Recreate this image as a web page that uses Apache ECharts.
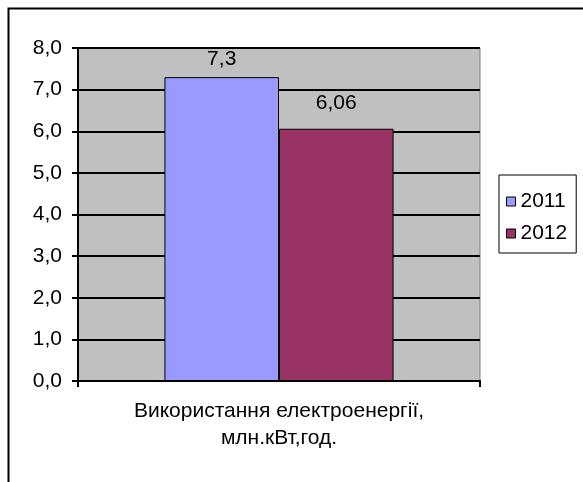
<!DOCTYPE html>
<html>
<head>
<meta charset="utf-8">
<script src="https://cdn.jsdelivr.net/npm/echarts@6/dist/echarts.min.js"></script>
<style>
html,body{margin:0;padding:0;background:#fff;}
#c{width:583px;height:482px;}
</style>
</head>
<body>
<div id="c"></div>
<script>
var categories = ['Використання електроенергії,\nмлн.кВт,год.'];
var seriesNames = ['2011', '2012'];
var values2011 = [7.3];
var values2012 = [6.06];
var labels2011 = ['7,3'];
var labels2012 = ['6,06'];

var font = 'Liberation Sans, Arial, sans-serif';
var fs = 21;
var chart = echarts.init(document.getElementById('c'), null, {renderer: 'canvas'});
chart.setOption({
  animation: false,
  backgroundColor: '#fff',
  graphic: [{
    type: 'rect', left: 6, top: 6, shape: {width: 620, height: 520},
    style: {fill: 'none', stroke: '#000', lineWidth: 2}, z: 100
  }],
  grid: {
    left: 78, right: 103, top: 48, bottom: 101,
    show: true, backgroundColor: '#C0C0C0', borderColor: '#808080', borderWidth: 1
  },
  legend: {
    orient: 'vertical', left: 499, top: 175,
    padding: [16, 9, 9, 7],
    itemGap: 11, itemWidth: 9, itemHeight: 9,
    borderColor: '#000', borderWidth: 1, backgroundColor: '#fff',
    textStyle: {fontFamily: font, fontSize: fs, color: '#000'},
    itemStyle: {borderColor: '#000', borderWidth: 1},
    data: seriesNames.map(function (n) { return {name: n, icon: 'rect'}; })
  },
  xAxis: {
    type: 'category', data: categories,
    axisLine: {lineStyle: {color: '#000', width: 2}},
    axisTick: {show: true, length: 6, lineStyle: {color: '#000', width: 2}},
    axisLabel: {fontFamily: font, fontSize: fs, color: '#000', margin: 17, lineHeight: 27}
  },
  yAxis: {
    type: 'value', min: 0, max: 8, interval: 1,
    axisLine: {show: true, lineStyle: {color: '#000', width: 2}},
    axisTick: {show: true, length: 6, lineStyle: {color: '#000', width: 2}},
    splitLine: {lineStyle: {color: '#000', width: 2}},
    axisLabel: {
      fontFamily: font, fontSize: fs, color: '#000', margin: 16,
      formatter: function (v) { return v.toFixed(1).replace('.', ','); }
    }
  },
  series: [{
    name: seriesNames[0], type: 'bar', data: values2011,
    barCategoryGap: '43%', barGap: '0%',
    itemStyle: {color: '#9999FF', borderColor: '#000', borderWidth: 1},
    label: {show: true, position: 'top', distance: 7, fontFamily: font, fontSize: fs, color: '#000',
      formatter: function (p) { return labels2011[p.dataIndex]; }}
  }, {
    name: seriesNames[1], type: 'bar', data: values2012,
    barCategoryGap: '43%', barGap: '0%',
    itemStyle: {color: '#993366', borderColor: '#000', borderWidth: 1},
    label: {show: true, position: 'top', distance: 15, fontFamily: font, fontSize: fs, color: '#000',
      formatter: function (p) { return labels2012[p.dataIndex]; }}
  }]
});
</script>
</body>
</html>
